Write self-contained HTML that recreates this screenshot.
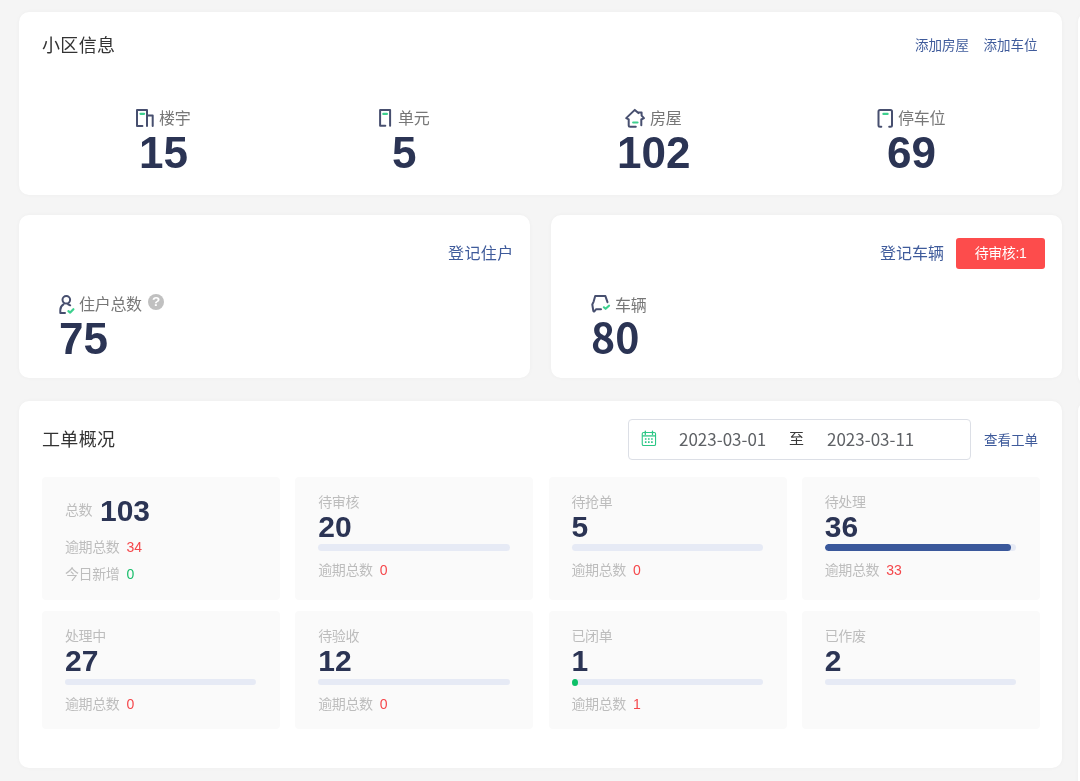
<!DOCTYPE html>
<html lang="zh-CN">
<head>
<meta charset="utf-8">
<title>小区信息</title>
<style>
*{box-sizing:border-box;margin:0;padding:0}
html,body{width:1080px;height:781px;overflow:hidden;background:#f5f5f5}
body{position:relative;font-family:"Liberation Sans","Noto Sans CJK SC",sans-serif;color:#333;font-size:14px}
.card{position:absolute;background:#fff;border-radius:10px;box-shadow:0 0 4px rgba(0,0,0,.035)}
.title{position:absolute;left:23px;letter-spacing:0.35px;font-size:18px;line-height:26px;color:#333;white-space:nowrap}
.link{position:absolute;font-size:13.5px;line-height:20px;color:#3f5b9b;white-space:nowrap}
.link16{font-size:16px !important;line-height:22px}
.stat{position:absolute;white-space:nowrap}
.lab{position:absolute;letter-spacing:-0.3px;font-size:16px;line-height:22px;color:#777;white-space:nowrap}
.num{position:absolute;font-size:44px;line-height:44px;font-weight:bold;color:#2b3454;white-space:nowrap;letter-spacing:0}
.ico{position:absolute}
.box{position:absolute;background:#fafafa;border-radius:4px;width:238px}
.box .t{position:absolute;left:23px;font-size:14px;letter-spacing:-0.4px;line-height:18px;color:#bdbdbd;white-space:nowrap}
.box .n{position:absolute;left:23px;font-size:30px;line-height:30px;font-weight:bold;color:#2b3454;white-space:nowrap}
.box .bar{position:absolute;left:23px;width:191.25px;height:7px;border-radius:3.5px;background:#e6eaf5;overflow:hidden}
.box .bar i{display:block;height:7px;border-radius:3.5px;background:#3a589b}
.box .o{position:absolute;left:23px;font-size:14px;letter-spacing:-0.4px;line-height:18px;color:#bdbdbd;white-space:nowrap}
.box .o b{font-weight:normal;color:#f5474b;margin-left:7px;letter-spacing:0}
.box .o b.g{color:#19be6b}

.q{position:absolute;width:16px;height:16px;border-radius:8px;background:#c0c0c0;color:#fff;font-size:13.5px;line-height:16.5px;text-align:center;font-weight:bold}
.btn{position:absolute;width:89px;height:31px;border-radius:3px;background:#fd4c4c;color:#fff;font-size:14px;letter-spacing:-0.4px;line-height:31px;text-align:center;white-space:nowrap}
.date{position:absolute;width:343px;height:41px;border:1px solid #dcdfe6;border-radius:4px;background:#fff;font-family:"Noto Sans CJK SC","Liberation Sans",sans-serif}
.date span{position:absolute;top:7px;font-size:17px;line-height:24px;color:#5f6266;white-space:nowrap}
.date span.z{font-size:15px;top:6px;color:#3a3a3a}
.box .dot{position:absolute;left:23px;top:67.5px;width:6px;height:7px;border-radius:3px/3.5px;background:#0dc067}
</style>
</head>
<body>

<!-- card 1 -->
<div class="card" style="left:19px;top:12px;width:1043px;height:183px">
  <div class="title" style="top:21px">小区信息</div>
  <div class="link" style="left:896px;top:24px">添加房屋</div>
  <div class="link" style="left:964.5px;top:24px">添加车位</div>

  <!-- 楼宇 -->
  <svg class="ico" style="left:116px;top:96px" width="20" height="20" viewBox="0 0 20 20" fill="none" stroke="#474f6f" stroke-width="2" stroke-linecap="round" stroke-linejoin="round"><path d="M7.4 18H2V2H12V18"/><path d="M12 7.6H17.7V18"/><path d="M5.5 5.8H9.1" stroke="#3dd08e" stroke-width="2.2"/></svg>
  <div class="lab" style="left:140px;top:96px">楼宇</div>
  <div class="num" style="left:120px;top:119px">15</div>
  <!-- 单元 -->
  <svg class="ico" style="left:359px;top:96px" width="20" height="20" viewBox="0 0 20 20" fill="none" stroke="#474f6f" stroke-width="2" stroke-linecap="round" stroke-linejoin="round"><path d="M7.3 17.8H2.1V2.1H12.1V17.8"/><path d="M5.3 5.9H8.9" stroke="#3dd08e" stroke-width="2.2"/></svg>
  <div class="lab" style="left:379px;top:96px">单元</div>
  <div class="num" style="left:373px;top:119px">5</div>
  <!-- 房屋 -->
  <svg class="ico" style="left:604px;top:95px" width="24" height="22" viewBox="0 0 24 22" fill="none" stroke="#474f6f" stroke-width="2" stroke-linecap="round" stroke-linejoin="round"><path d="M12.8 19.8H7.2Q5.7 19.8 5.7 18.3V12.3L3.2 11.1L11.8 2.9L15.4 6.1V5.5H18.6V8.6L21 11.1L18.3 12.5V18.2"/><path d="M10.2 15.5H14.5" stroke="#3dd08e" stroke-width="2.2"/></svg>
  <div class="lab" style="left:631px;top:96px">房屋</div>
  <div class="num" style="left:598px;top:119px">102</div>
  <!-- 停车位 -->
  <svg class="ico" style="left:856px;top:96px" width="20" height="21" viewBox="0 0 20 21" fill="none" stroke="#474f6f" stroke-width="2" stroke-linecap="round" stroke-linejoin="round"><path d="M6.3 18.8H5Q3.5 18.8 3.5 17.3V3.6Q3.5 2.1 5 2.1H15.5Q17 2.1 17 3.6V17.3Q17 18.8 15.5 18.8H14.2"/><path d="M8.4 5.9H12.6" stroke="#3dd08e" stroke-width="2.2"/></svg>
  <div class="lab" style="left:879px;top:96px">停车位</div>
  <div class="num" style="left:868px;top:119px">69</div>
</div>

<!-- card 2 -->
<div class="card" style="left:19px;top:215px;width:511px;height:163px">
  <div class="link link16" style="left:429px;top:28px;letter-spacing:0.4px">登记住户</div>

  <svg class="ico" style="left:38px;top:78px" width="20" height="22" viewBox="0 0 20 22" fill="none" stroke="#474f6f" stroke-width="2" stroke-linecap="round" stroke-linejoin="round"><circle cx="9.3" cy="6.8" r="3.8"/><path d="M6.5 11.3C4.5 12.5 3.3 14.5 3.3 17V19.9H8"/><path d="M11.1 11.3L13.2 12.3"/><path d="M11.4 18.1L13.2 19.6L16.4 16.2" stroke="#3dd08e" stroke-width="2.2"/></svg>
  <div class="lab" style="left:60px;top:79px">住户总数</div>
  <div class="q" style="left:129px;top:79px">?</div>
  <div class="num" style="left:40px;top:102px">75</div>
</div>
<div class="card" style="left:551px;top:215px;width:511px;height:163px">
  <div class="link link16" style="left:329px;top:28px">登记车辆</div>

  <div class="btn" style="left:405px;top:23px">待审核:1</div>
  <svg class="ico" style="left:38px;top:78px" width="22" height="20" viewBox="0 0 22 20" fill="none" stroke="#474f6f" stroke-width="2" stroke-linecap="round" stroke-linejoin="round"><path d="M12 16.2H7.2L5.4 18.3Q4.5 18.8 4.3 17.7L3.3 11.5L4.65 8.6L6.2 3.1H16.4L18.5 9.2"/><path d="M14.9 14.3L16.6 15.8L20 12.7" stroke="#3dd08e" stroke-width="2.2"/></svg>
  <div class="lab" style="left:64px;top:80px">车辆</div>
  <div class="num" style="left:40px;top:98px;font-size:41px;font-family:'Noto Sans CJK SC',sans-serif">80</div>
</div>

<!-- card 3 -->
<div class="card" style="left:19px;top:401px;width:1043px;height:367px">
  <div class="title" style="top:26px">工单概况</div>

  <div class="date" style="left:609px;top:18px">
    <svg class="ico" style="left:12px;top:10px" width="17" height="17" viewBox="0 0 17 17" fill="none" stroke="#2bc785" stroke-width="1.1"><rect x="1.25" y="2.45" width="13.3" height="13" rx="1.3"/><path d="M1.2 5.9H14.6" stroke-width="1.3"/><path d="M4.3 1.1V4.4M11.5 1.1V4.4" stroke-width="1.3" stroke-linecap="round"/><path d="M3.9 9H5.5M7 9H8.6M10.1 9H11.7M3.9 12.1H5.5M7 12.1H8.6M10.1 12.1H11.7" stroke-width="1.6"/></svg>
    <span style="left:50px">2023-03-01</span><span class="z" style="left:160px">至</span><span style="left:198px">2023-03-11</span>
  </div>
  <div class="link" style="left:965px;top:30px">查看工单</div>
<div class="box" style="left:23px;top:76px;height:123px"><div class="t" style="top:24px">总数</div><div class="n" style="left:58px;top:19px">103</div><div class="o" style="top:61px">逾期总数<b>34</b></div><div class="o" style="top:88px">今日新增<b class="g">0</b></div></div>
<div class="box" style="left:276.25px;top:76px;height:123px"><div class="t" style="top:16px">待审核</div><div class="n" style="top:35px">20</div><div class="bar" style="top:67px"></div><div class="o" style="top:84px">逾期总数<b>0</b></div></div>
<div class="box" style="left:529.5px;top:76px;height:123px"><div class="t" style="top:16px">待抢单</div><div class="n" style="top:35px">5</div><div class="bar" style="top:67px"></div><div class="o" style="top:84px">逾期总数<b>0</b></div></div>
<div class="box" style="left:782.75px;top:76px;height:123px"><div class="t" style="top:16px">待处理</div><div class="n" style="top:35px">36</div><div class="bar" style="top:67px"><i style="width:97.3%"></i></div><div class="o" style="top:84px">逾期总数<b>33</b></div></div>
<div class="box" style="left:23px;top:210px;height:118px"><div class="t" style="top:16px">处理中</div><div class="n" style="top:35px">27</div><div class="bar" style="top:68px;height:6px"></div><div class="o" style="top:84px">逾期总数<b>0</b></div></div>
<div class="box" style="left:276.25px;top:210px;height:118px"><div class="t" style="top:16px">待验收</div><div class="n" style="top:35px">12</div><div class="bar" style="top:68px;height:6px"></div><div class="o" style="top:84px">逾期总数<b>0</b></div></div>
<div class="box" style="left:529.5px;top:210px;height:118px"><div class="t" style="top:16px">已闭单</div><div class="n" style="top:35px">1</div><div class="bar" style="top:68px;height:6px"></div><div class="dot"></div><div class="o" style="top:84px">逾期总数<b>1</b></div></div>
<div class="box" style="left:782.75px;top:210px;height:118px"><div class="t" style="top:16px">已作废</div><div class="n" style="top:35px">2</div><div class="bar" style="top:68px;height:6px"></div></div>
</div>

<!-- right column slivers -->
<div class="card" style="left:1078px;top:12px;width:300px;height:373px"></div>
<div class="card" style="left:1078px;top:401px;width:300px;height:500px"></div>

</body>
</html>
